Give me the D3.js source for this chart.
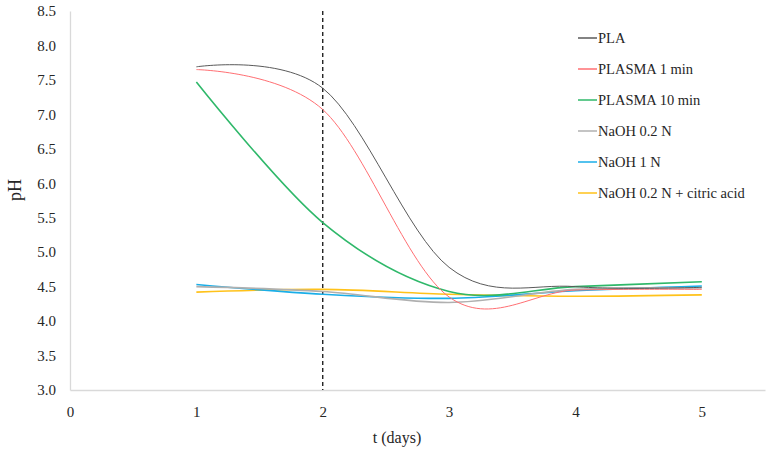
<!DOCTYPE html>
<html>
<head>
<meta charset="utf-8">
<script src="https://cdn.jsdelivr.net/npm/d3@7"></script>
<style>
  body { margin: 0; background: #fff; }
  svg text { font-family: "Liberation Serif", serif; fill: #262626; }
</style>
</head>
<body>
<div id="chart"></div>
<script>
// days sampled
const days = [1, 2, 3, 4, 5];

// pH readings for each sample
const pla       = [7.69, 7.38, 4.78, 4.50, 4.49];
const plasma1   = [7.65, 7.07, 4.35, 4.45, 4.46];
const plasma10  = [7.47, 5.43, 4.43, 4.50, 4.57];
const naoh02    = [4.50, 4.43, 4.27, 4.46, 4.48];
const naoh1     = [4.53, 4.39, 4.33, 4.44, 4.51];
const naohCitric = [4.42, 4.46, 4.39, 4.36, 4.38];

const seriesNames = ["PLA", "PLASMA 1 min", "PLASMA 10 min", "NaOH 0.2 N", "NaOH 1 N", "NaOH 0.2 N + citric acid"];
const seriesValues = [pla, plasma1, plasma10, naoh02, naoh1, naohCitric];
const seriesColors = ["#5a5a5a", "#ff6f73", "#2fb86a", "#b0b0b0", "#1aaee8", "#ffc21a"];
const seriesWidths = [1, 1, 1.6, 1.6, 1.6, 1.6];

const xTicks = [0, 1, 2, 3, 4, 5];
const yTicks = [3.0, 3.5, 4.0, 4.5, 5.0, 5.5, 6.0, 6.5, 7.0, 7.5, 8.0, 8.5];
const markerDay = 2;

const width = 772, height = 452;
const margin = {top: 11, right: 7, bottom: 62, left: 70};

const svg = d3.select("#chart").append("svg")
    .attr("width", width)
    .attr("height", height);

const x = d3.scaleLinear().domain([0, 5.5]).range([margin.left, width - margin.right]);
const y = d3.scaleLinear().domain([3, 8.5]).range([height - margin.bottom, margin.top]);

// axes: light grey lines, no ticks
const xAxis = svg.append("g")
    .attr("transform", "translate(0," + y(3) + ")")
    .call(d3.axisBottom(x).tickValues(xTicks).tickSize(0).tickPadding(16).tickFormat(d3.format("d")))
    .attr("font-family", "Liberation Serif, serif")
    .attr("font-size", 15);
xAxis.select(".domain").attr("stroke", "#d9d9d9").attr("stroke-width", 1.3);

const yAxis = svg.append("g")
    .attr("transform", "translate(" + x(0) + ",0)")
    .call(d3.axisLeft(y).tickValues(yTicks).tickSize(0).tickPadding(14).tickFormat(d3.format(".1f")))
    .attr("font-family", "Liberation Serif, serif")
    .attr("font-size", 15);
yAxis.select(".domain").attr("stroke", "#d9d9d9").attr("stroke-width", 1.3);

// axis titles
svg.append("text")
    .attr("x", 397).attr("y", 443)
    .attr("text-anchor", "middle")
    .style("font-size", "16px")
    .text("t (days)");

svg.append("text")
    .attr("transform", "translate(21," + 190 + ") rotate(-90)")
    .attr("text-anchor", "middle")
    .style("font-size", "18px")
    .text("pH");

// dashed marker at day 2
svg.append("line")
    .attr("x1", x(markerDay)).attr("x2", x(markerDay))
    .attr("y1", y(8.5)).attr("y2", y(3))
    .attr("stroke", "#222")
    .attr("stroke-width", 1.4)
    .attr("stroke-dasharray", "4,3");

// smoothed lines
const line = d3.line()
    .x(d => x(d[0]))
    .y(d => y(d[1]))
    .curve(d3.curveCatmullRom.alpha(0));

const order = [5, 4, 3, 2, 1, 0];
order.forEach(function(i) {
    svg.append("path")
        .datum(days.map((d, j) => [d, seriesValues[i][j]]))
        .attr("fill", "none")
        .attr("stroke", seriesColors[i])
        .attr("stroke-width", seriesWidths[i])
        .attr("d", line);
});

// legend
const legend = svg.append("g");
seriesNames.forEach(function(name, i) {
    const ly = 38 + i * 31;
    legend.append("line")
        .attr("x1", 578).attr("x2", 597)
        .attr("y1", ly).attr("y2", ly)
        .attr("stroke", seriesColors[i])
        .attr("stroke-width", 1.5);
    legend.append("text")
        .attr("x", 598).attr("y", ly + 5)
        .style("font-size", "14.5px")
        .text(name);
});
</script>
</body>
</html>
